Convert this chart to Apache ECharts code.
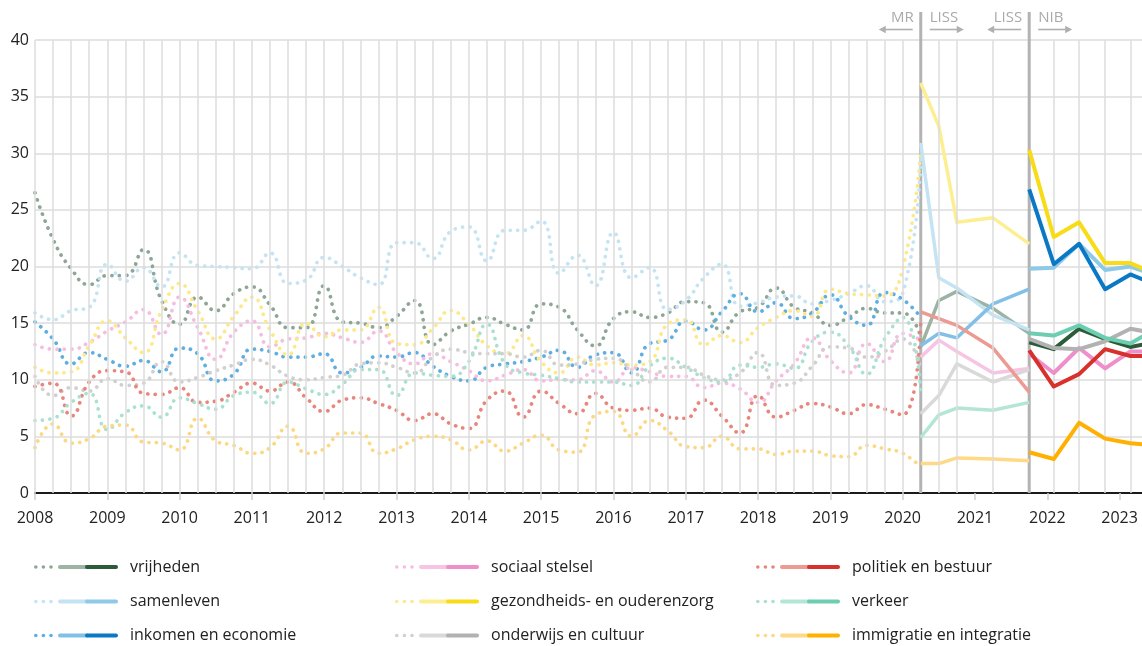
<!DOCTYPE html>
<html>
<head>
<meta charset="utf-8">
<title>Zorgen per onderwerp</title>
<script src="https://cdn.jsdelivr.net/npm/echarts@6/dist/echarts.min.js"></script>
<style>
  html, body { margin: 0; padding: 0; background: #fff; }
  #chart { width: 1142px; height: 646px; }
</style>
</head>
<body>
<div id="chart"></div>
<script>
// x-positions (years) of the three sources
const mrX = [2008, 2008.25, 2008.5, 2008.75, 2009, 2009.25, 2009.5, 2009.75, 2010, 2010.25,
  2010.5, 2010.75, 2011, 2011.25, 2011.5, 2011.75, 2012, 2012.25, 2012.5, 2012.75,
  2013, 2013.25, 2013.5, 2013.75, 2014, 2014.25, 2014.5, 2014.75, 2015, 2015.25,
  2015.5, 2015.75, 2016, 2016.25, 2016.5, 2016.75, 2017, 2017.25, 2017.5, 2017.75,
  2018, 2018.25, 2018.5, 2018.75, 2019, 2019.25, 2019.5, 2019.75, 2020, 2020.25];
const lissX = [2020.25, 2020.5, 2020.75, 2021.25, 2021.75];
const nibX = [2021.75, 2022.09, 2022.44, 2022.8, 2023.15, 2023.5];
const yearTicks = ['2008', '2009', '2010', '2011', '2012', '2013', '2014', '2015',
  '2016', '2017', '2018', '2019', '2020', '2021', '2022', '2023'];

// MR (dotted), LISS (light), NIB (dark)
const vrijhedenMR = [26.5, 22.4, 19.8, 18.4, 19.2, 19.2, 21.5, 17.0, 14.9, 17.3, 16.1, 17.6, 18.2, 16.6, 14.6, 14.6, 18.3, 15.1, 15.0, 14.6, 15.6, 17.0, 13.1, 14.3, 14.9, 15.5, 14.9, 14.4, 16.7, 16.4, 14.4, 13.0, 15.4, 16.0, 15.5, 15.9, 16.9, 16.8, 14.2, 16.0, 16.4, 18.1, 16.4, 15.9, 14.8, 15.5, 16.3, 15.9, 15.9, 13.8];
const vrijhedenLISS = [12.9, 17.0, 17.8, 16.3, 14.1];
const vrijhedenNIB = [13.3, 12.7, 14.5, 13.6, 12.9, 13.3];

const samenlevenMR = [15.9, 15.3, 16.1, 16.4, 20.2, 18.7, 19.9, 18.2, 21.2, 20.1, 20.0, 19.9, 19.8, 21.2, 18.5, 18.8, 20.8, 20.0, 19.0, 18.4, 22.1, 22.1, 20.7, 23.1, 23.5, 20.5, 23.2, 23.2, 24.0, 19.4, 21.0, 18.3, 23.0, 19.0, 19.9, 16.2, 17.0, 19.0, 20.2, 16.5, 16.8, 17.3, 17.4, 16.7, 17.0, 17.6, 18.3, 16.9, 17.6, 29.5];
const samenlevenLISS = [30.9, 19.0, 18.1, 15.7, 14.4];
const samenlevenNIB = [19.8, 19.9, 22.0, 19.7, 20.0, 19.2];

const inkomenMR = [15.1, 13.6, 11.4, 12.4, 11.8, 11.2, 11.7, 10.7, 12.8, 12.3, 9.9, 10.5, 12.7, 12.5, 12.0, 12.0, 12.3, 10.6, 11.1, 12.1, 12.0, 12.4, 11.2, 10.3, 9.9, 11.1, 11.4, 11.6, 12.0, 12.6, 11.1, 12.2, 12.4, 10.6, 13.2, 13.5, 15.2, 14.4, 16.0, 17.6, 16.0, 16.8, 15.4, 15.9, 17.5, 15.6, 14.8, 17.7, 17.1, 15.5];
const inkomenLISS = [13.0, 14.1, 13.7, 16.7, 18.0];
const inkomenNIB = [26.8, 20.2, 22.0, 18.0, 19.3, 18.4];

const sociaalMR = [13.1, 12.7, 12.7, 13.3, 14.3, 15.1, 16.2, 14.0, 17.3, 14.6, 11.8, 14.2, 15.2, 12.9, 13.6, 13.7, 14.1, 13.7, 13.3, 14.3, 12.4, 11.4, 12.3, 11.6, 10.8, 9.9, 10.4, 10.9, 9.9, 10.0, 10.0, 10.8, 9.8, 11.1, 10.7, 10.3, 10.3, 9.3, 9.7, 9.2, 8.0, 9.9, 11.4, 13.7, 11.7, 10.6, 13.2, 11.6, 14.1, 13.5];
const sociaalLISS = [12.0, 13.5, 12.5, 10.6, 11.0];
const sociaalNIB = [12.3, 10.6, 12.8, 11.0, 12.5, 12.5];

const gezondheidMR = [11.1, 10.6, 10.7, 13.0, 15.2, 13.7, 12.4, 16.1, 18.5, 16.1, 13.6, 15.6, 17.3, 14.4, 12.2, 15.0, 13.8, 14.4, 14.4, 16.4, 13.2, 13.1, 14.5, 16.1, 14.9, 13.0, 12.3, 13.9, 11.6, 10.6, 12.0, 11.3, 11.5, 11.3, 11.6, 14.9, 15.3, 13.1, 13.9, 13.3, 14.6, 15.5, 16.1, 15.6, 18.0, 17.6, 17.5, 17.4, 19.8, 30.2];
const gezondheidLISS = [36.2, 32.4, 23.9, 24.3, 22.0];
const gezondheidNIB = [30.3, 22.6, 23.9, 20.3, 20.3, 19.3];

const onderwijsMR = [10.3, 8.6, 9.3, 9.0, 10.1, 9.5, 9.7, 11.6, 9.8, 10.2, 10.8, 11.3, 11.8, 11.3, 10.3, 10.0, 10.2, 10.4, 11.4, 11.5, 11.1, 10.6, 12.0, 12.7, 12.4, 12.3, 12.3, 12.0, 12.6, 11.3, 11.4, 11.8, 11.9, 10.9, 9.8, 11.1, 11.1, 10.4, 10.0, 10.6, 12.4, 9.5, 9.7, 11.2, 12.9, 12.8, 12.0, 12.5, 13.6, 11.0];
const onderwijsLISS = [7.0, 8.6, 11.4, 9.8, 10.9];
const onderwijsNIB = [13.6, 12.8, 12.7, 13.4, 14.5, 14.1];

const politiekMR = [9.4, 9.7, 6.8, 9.8, 10.8, 10.7, 8.8, 8.7, 9.3, 8.0, 8.1, 8.9, 9.7, 9.0, 9.8, 8.4, 7.2, 8.2, 8.4, 7.9, 7.3, 6.4, 7.0, 6.1, 5.7, 8.2, 9.0, 6.7, 9.0, 7.9, 7.0, 8.8, 7.5, 7.3, 7.5, 6.7, 6.6, 8.2, 6.8, 5.3, 8.6, 6.7, 7.3, 7.9, 7.6, 7.0, 7.8, 7.4, 6.9, 15.0];
const politiekLISS = [16.0, 15.4, 14.8, 12.8, 8.9];
const politiekNIB = [12.6, 9.4, 10.5, 12.7, 12.1, 12.1];

const verkeerMR = [6.4, 6.6, 8.0, 8.8, 5.6, 7.1, 7.7, 6.7, 8.4, 7.9, 7.4, 8.6, 8.9, 7.9, 9.8, 9.2, 8.7, 9.6, 10.9, 10.9, 8.6, 10.6, 10.4, 10.3, 11.6, 14.9, 11.4, 10.6, 10.4, 10.1, 9.8, 9.8, 9.8, 9.5, 11.2, 11.9, 11.1, 10.2, 9.8, 11.3, 11.1, 11.4, 11.0, 13.4, 14.2, 13.0, 10.5, 13.6, 15.5, 9.0];
const verkeerLISS = [4.9, 6.9, 7.5, 7.3, 8.0];
const verkeerNIB = [14.1, 13.9, 14.8, 13.7, 13.2, 14.5];

const immigratieMR = [4.0, 6.1, 4.4, 4.8, 5.9, 6.0, 4.5, 4.4, 3.8, 6.6, 4.6, 4.2, 3.5, 4.0, 5.9, 3.5, 3.9, 5.3, 5.3, 3.5, 3.9, 4.7, 5.0, 4.7, 3.8, 4.6, 3.7, 4.4, 5.1, 3.8, 3.6, 6.9, 7.2, 5.0, 6.4, 5.5, 4.1, 4.0, 5.0, 3.9, 3.9, 3.4, 3.7, 3.7, 3.3, 3.2, 4.2, 3.9, 3.5, 2.3];
const immigratieLISS = [2.6, 2.6, 3.1, 3.0, 2.85];
const immigratieNIB = [3.6, 3.0, 6.2, 4.8, 4.4, 4.2];

// legend order: column by column
const topics = [
  { name: 'vrijheden', mr: vrijhedenMR, liss: vrijhedenLISS, nib: vrijhedenNIB, c: ['#8ea696', '#9db3a3', '#2b5b38'] },
  { name: 'samenleven', mr: samenlevenMR, liss: samenlevenLISS, nib: samenlevenNIB, c: ['#c5e4f3', '#c5e4f3', '#8ec9e8'] },
  { name: 'inkomen en economie', mr: inkomenMR, liss: inkomenLISS, nib: inkomenNIB, c: ['#5eaee2', '#82c0e8', '#0a78c4'] },
  { name: 'sociaal stelsel', mr: sociaalMR, liss: sociaalLISS, nib: sociaalNIB, c: ['#f6bde0', '#f7c4e3', '#ee8fcb'] },
  { name: 'gezondheids- en ouderenzorg', mr: gezondheidMR, liss: gezondheidLISS, nib: gezondheidNIB, c: ['#fde88a', '#fdef91', '#f7dc17'] },
  { name: 'onderwijs en cultuur', mr: onderwijsMR, liss: onderwijsLISS, nib: onderwijsNIB, c: ['#d0d0d0', '#d9d9d9', '#b2b2b2'] },
  { name: 'politiek en bestuur', mr: politiekMR, liss: politiekLISS, nib: politiekNIB, c: ['#e8867c', '#ec9a92', '#d8312b'] },
  { name: 'verkeer', mr: verkeerMR, liss: verkeerLISS, nib: verkeerNIB, c: ['#a9e1d0', '#b3e6d6', '#6ccdb0'] },
  { name: 'immigratie en integratie', mr: immigratieMR, liss: immigratieLISS, nib: immigratieNIB, c: ['#fdd882', '#ffd987', '#ffb000'] }
];

const FONT = '"Open Sans", "Noto Sans", sans-serif';

function pairs(xs, ys) {
  return ys.map((v, i) => [xs[i], v]);
}

// vertical grid: every measurement moment except the two source breaks
const gridX = mrX.slice(0, -1).concat(lissX.slice(1, -1), nibX.slice(1));

const series = [{
  type: 'line',
  data: [],
  z: 1,
  silent: true,
  markLine: {
    silent: true,
    symbol: 'none',
    animation: false,
    label: { show: false },
    lineStyle: { color: '#dcdcdc', width: 1.5, type: 'solid' },
    data: gridX.map(v => ({ xAxis: v }))
  }
}];

topics.forEach(t => {
  series.push({
    name: t.name + ' MR',
    type: 'line',
    data: pairs(mrX, t.mr),
    smooth: 0.5,
    showSymbol: false,
    z: 3,
    lineStyle: { color: t.c[0], width: 3.7, type: [0.1, 7.4], cap: 'round' }
  });
});
topics.forEach(t => {
  series.push({
    name: t.name + ' LISS',
    type: 'line',
    data: pairs(lissX, t.liss),
    showSymbol: false,
    z: 4,
    lineStyle: { color: t.c[1], width: 3.5, join: 'round' }
  });
});
topics.forEach(t => {
  series.push({
    name: t.name + ' NIB',
    type: 'line',
    data: pairs(nibX, t.nib),
    showSymbol: false,
    z: 5,
    lineStyle: { color: t.c[2], width: 4, join: 'round' }
  });
});

// legend drawn as graphic: dots + light + dark segment
const legendCols = [35, 396, 757];
const legendRows = [567, 601.5, 635.5];
const legend = [];
topics.forEach((t, i) => {
  const x0 = legendCols[Math.floor(i / 3)];
  const y = legendRows[i % 3];
  [0.8, 8.4, 16].forEach(dx => legend.push({
    type: 'circle', shape: { cx: x0 + dx, cy: y, r: 1.8 }, style: { fill: t.c[0] }
  }));
  legend.push({ type: 'line', shape: { x1: x0 + 25, y1: y, x2: x0 + 52, y2: y },
    style: { stroke: t.c[1], lineWidth: 4, lineCap: 'round' } });
  legend.push({ type: 'line', shape: { x1: x0 + 52, y1: y, x2: x0 + 81, y2: y },
    style: { stroke: t.c[2], lineWidth: 4, lineCap: 'round' } });
  legend.push({ type: 'text', x: x0 + 95, y: y,
    style: { text: t.name, fill: '#222', font: '16px ' + FONT, textVerticalAlign: 'middle' } });
});

const chart = echarts.init(document.getElementById('chart'));
chart.setOption({
  animation: false,
  backgroundColor: '#fff',
  grid: { left: 35, right: 0, top: 40, bottom: 153 },
  xAxis: {
    type: 'value',
    min: Number(yearTicks[0]),
    max: 2023.31,
    interval: 1,
    axisLine: { show: true, onZero: false, lineStyle: { color: '#1a1a1a', width: 2 } },
    axisTick: { show: true, length: 7, lineStyle: { color: '#cfcfcf', width: 1.5 } },
    splitLine: { show: false },
    axisLabel: {
      margin: 17,
      showMaxLabel: false,
      color: '#222',
      fontSize: 16,
      fontFamily: FONT,
      formatter: v => (yearTicks.indexOf(String(v)) >= 0 ? String(v) : '')
    }
  },
  yAxis: {
    type: 'value',
    min: 0,
    max: 40,
    interval: 5,
    axisLine: { show: false },
    axisTick: { show: false },
    splitLine: { lineStyle: { color: '#dcdcdc', width: 1.5 } },
    axisLabel: { color: '#222', fontSize: 16, fontFamily: FONT, margin: 6 }
  },
  series: series,
  graphic: legend
});

// source breaks with their labels, placed on the x scale
const xA = chart.convertToPixel({ xAxisIndex: 0 }, lissX[0]);
const xB = chart.convertToPixel({ xAxisIndex: 0 }, nibX[0]);
const yBottom = chart.convertToPixel({ yAxisIndex: 0 }, 0);
const breaks = [];
function arrow(from, to, y) {
  const dir = to > from ? 1 : -1;
  breaks.push({ type: 'line', shape: { x1: from, y1: y, x2: to - dir * 4, y2: y },
    style: { stroke: '#b0b0b0', lineWidth: 1.6 } });
  breaks.push({ type: 'polygon', shape: { points: [[to, y], [to - dir * 7, y - 3.8], [to - dir * 7, y + 3.8]] },
    style: { fill: '#b0b0b0' } });
}
[[xA, 'MR', 'LISS'], [xB, 'LISS', 'NIB']].forEach(([x, left, right]) => {
  breaks.push({ type: 'line', z: 2, shape: { x1: x, y1: 12, x2: x, y2: yBottom },
    style: { stroke: '#b3b3b3', lineWidth: 3 } });
  breaks.push({ type: 'text', x: x - 7, y: 18,
    style: { text: left, fill: '#aaa', font: '15px ' + FONT, textAlign: 'right', textVerticalAlign: 'middle' } });
  breaks.push({ type: 'text', x: x + 9, y: 18,
    style: { text: right, fill: '#aaa', font: '15px ' + FONT, textAlign: 'left', textVerticalAlign: 'middle' } });
  arrow(x - 8, x - 42, 29.5);
  arrow(x + 9, x + 43, 29.5);
});
chart.setOption({ graphic: legend.concat(breaks) });
</script>
</body>
</html>
